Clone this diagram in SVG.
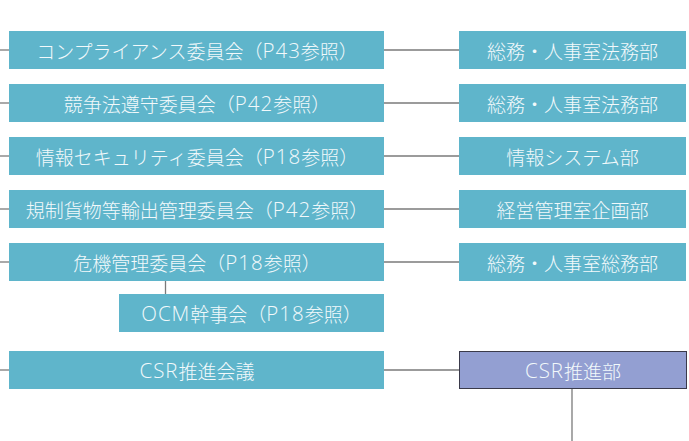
<svg xmlns="http://www.w3.org/2000/svg" width="689" height="441" viewBox="0 0 689 441">
<style>
.b{fill:#5fb5cb}
.p{fill:#939fd2;stroke:#3a3a4a;stroke-width:1}
text{font-family:"Noto Sans CJK JP","Noto Sans",sans-serif;font-size:19px;font-weight:300;fill:#f2f9fb;text-anchor:middle;dominant-baseline:central}
.l{font-family:"Open Sans","Noto Sans CJK JP",sans-serif;font-size:20.5px;font-weight:300;letter-spacing:1px}
.c line{stroke:#7a7a7a;stroke-width:1.3}
</style>
<rect width="689" height="441" fill="#fff"/>
<g class="c" id="connectors">
<line x1="0" y1="50" x2="9" y2="50"/><line x1="384" y1="50" x2="459" y2="50"/>
<line x1="0" y1="103" x2="9" y2="103"/><line x1="384" y1="103" x2="459" y2="103"/>
<line x1="0" y1="156" x2="9" y2="156"/><line x1="384" y1="156" x2="459" y2="156"/>
<line x1="0" y1="209" x2="9" y2="209"/><line x1="384" y1="209" x2="459" y2="209"/>
<line x1="0" y1="262" x2="9" y2="262"/><line x1="384" y1="262" x2="459" y2="262"/>
<line x1="165.5" y1="281" x2="165.5" y2="294"/>
<line x1="0" y1="370" x2="9" y2="370"/><line x1="384" y1="370" x2="459" y2="370"/>
<line x1="572" y1="389" x2="572" y2="441"/>
</g>
<g id="n1"><rect class="b" x="9" y="31" width="375" height="38"/><text x="197" y="50">コンプライアンス委員会（<tspan class="l">P43</tspan>参照）</text></g>
<g id="n2"><rect class="b" x="9" y="84" width="375" height="38"/><text x="197" y="103">競争法遵守委員会（<tspan class="l">P42</tspan>参照）</text></g>
<g id="n3"><rect class="b" x="9" y="137" width="375" height="38"/><text x="197" y="156">情報セキュリティ委員会（<tspan class="l">P18</tspan>参照）</text></g>
<g id="n4"><rect class="b" x="9" y="190" width="375" height="38"/><text x="197" y="209">規制貨物等輸出管理委員会（<tspan class="l">P42</tspan>参照）</text></g>
<g id="n5"><rect class="b" x="9" y="243" width="375" height="38"/><text x="197" y="262">危機管理委員会（<tspan class="l">P18</tspan>参照）</text></g>
<g id="n6"><rect class="b" x="119" y="294" width="265" height="38"/><text x="251.5" y="313"><tspan class="l">OCM</tspan>幹事会（<tspan class="l">P18</tspan>参照）</text></g>
<g id="n7"><rect class="b" x="9" y="351" width="375" height="38"/><text x="197" y="370"><tspan class="l">CSR</tspan>推進会議</text></g>
<g id="r1"><rect class="b" x="459" y="31" width="227" height="38"/><text x="572.5" y="50">総務・人事室法務部</text></g>
<g id="r2"><rect class="b" x="459" y="84" width="227" height="38"/><text x="572.5" y="103">総務・人事室法務部</text></g>
<g id="r3"><rect class="b" x="459" y="137" width="227" height="38"/><text x="572.5" y="156">情報システム部</text></g>
<g id="r4"><rect class="b" x="459" y="190" width="227" height="38"/><text x="572.5" y="209">経営管理室企画部</text></g>
<g id="r5"><rect class="b" x="459" y="243" width="227" height="38"/><text x="572.5" y="262">総務・人事室総務部</text></g>
<g id="r6"><rect class="p" x="459.5" y="351.5" width="227" height="37"/><text x="573" y="370"><tspan class="l">CSR</tspan>推進部</text></g>
</svg>
